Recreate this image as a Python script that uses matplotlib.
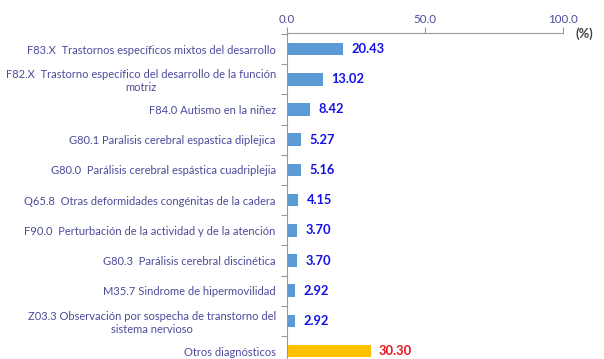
import matplotlib
matplotlib.use("Agg")
import matplotlib.pyplot as plt
from matplotlib.ticker import FixedLocator

categories = [
    "F83.X  Trastornos específicos mixtos del desarrollo",
    "F82.X  Trastorno específico del desarrollo de la función\nmotriz",
    "F84.0 Autismo en la niñez",
    "G80.1 Paralisis cerebral espastica diplejica",
    "G80.0  Parálisis cerebral espástica cuadriplejia",
    "Q65.8  Otras deformidades congénitas de la cadera",
    "F90.0  Perturbación de la actividad y de la atención",
    "G80.3  Parálisis cerebral discinética",
    "M35.7 Sindrome de hipermovilidad",
    "Z03.3 Observación por sospecha de transtorno del\nsistema nervioso",
    "Otros diagnósticos",
]
values = [20.43, 13.02, 8.42, 5.27, 5.16, 4.15, 3.70, 3.70, 2.92, 2.92, 30.30]
x_ticks = [0, 50, 100]
x_tick_labels = ["0.0", "50.0", "100.0"]

BLUE = "#5b9bd5"
GOLD = "#ffc000"
TEXT = "#4b4b9b"
AXIS = "#9a9a9a"

plt.rcParams["font.family"] = ["Lato", "DejaVu Sans"]

fig = plt.figure(figsize=(6.04, 3.59), dpi=100)
ax = fig.add_axes([0.475, 0.0, 0.457, 0.908])

n = len(categories)
pos = list(range(n))
colors = [BLUE] * (n - 1) + [GOLD]
ax.barh(pos, values, height=0.42, color=colors, zorder=2)

for i, v in enumerate(values):
    c = "#e8121a" if i == n - 1 else "#1010e8"
    ax.annotate(f"{v:.2f}", xy=(v, i), xytext=(6, 0), textcoords="offset points",
                va="center", ha="left", fontsize=9.3, fontweight="bold", color=c)

ax.set_xlim(0, 100)
ax.set_ylim(10.26, -0.53)

ax.xaxis.tick_top()
ax.set_xticks(x_ticks)
ax.set_xticklabels(x_tick_labels)
ax.tick_params(axis="x", colors=AXIS, labelcolor=TEXT, labelsize=8.3, length=4,
               width=0.8, pad=2)

ax.set_yticks(pos)
ax.set_yticklabels(categories)
ax.yaxis.set_minor_locator(FixedLocator([p + 0.5 for p in pos[:-1]] + [-0.5]))
ax.tick_params(axis="y", which="major", length=0, labelcolor=TEXT, labelsize=8.0, pad=8)
ax.tick_params(axis="y", which="minor", length=4, width=0.8, colors=AXIS)
for lab in ax.get_yticklabels():
    lab.set_multialignment("center")

for side in ("right", "bottom"):
    ax.spines[side].set_visible(False)
for side in ("top", "left"):
    ax.spines[side].set_color(AXIS)
    ax.spines[side].set_linewidth(0.8)

fig.text(0.968, 0.905, "(%)", ha="center", va="center", fontsize=9.3,
         fontweight="bold", color="#404040")

fig.savefig("out.png", dpi=100)
